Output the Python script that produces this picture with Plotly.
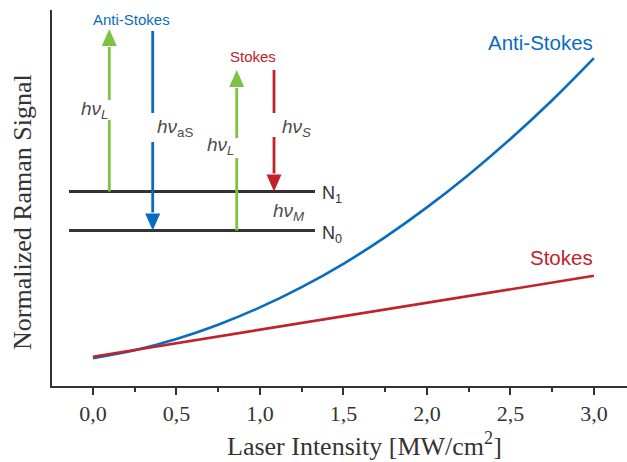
import plotly.graph_objects as go

# ---- data ----
intensity_as = [0.0, 0.25, 0.5, 0.75, 1.0, 1.25, 1.5, 1.75, 2.0, 2.25, 2.5, 2.75, 3.0]
anti_stokes = [0.074, 0.095, 0.125, 0.163, 0.209, 0.263, 0.325, 0.396, 0.475, 0.562, 0.657, 0.760, 0.872]
intensity_s = [0.0, 1.0, 2.0, 3.0]
stokes = [0.078, 0.150, 0.221, 0.293]
tick_vals = [0.0, 0.5, 1.0, 1.5, 2.0, 2.5, 3.0]
tick_text = ["0,0", "0,5", "1,0", "1,5", "2,0", "2,5", "3,0"]

BLUE = "#0a6cc0"
RED = "#c1222c"
GREEN = "#7dc242"
DARK = "#333333"
GRAY = "#4d4d4d"

W, H = 627, 462
ML, MR, MT, MB = 52, 0, 10, 76
XR = [-0.245, 3.198]
YR = [0.0, 1.0]


def px2x(px):
    return XR[0] + (px - ML) / (W - ML - MR) * (XR[1] - XR[0])


def px2y(py):
    return YR[0] + (H - MB - py) / (H - MT - MB) * (YR[1] - YR[0])


def px2paperx(px):
    return (px - ML) / (W - ML - MR)


def px2papery(py):
    return (H - MB - py) / (H - MT - MB)


fig = go.Figure()
fig.add_trace(go.Scatter(x=intensity_as, y=anti_stokes, mode="lines",
                         line=dict(color=BLUE, width=2.6, shape="spline"), showlegend=False))
fig.add_trace(go.Scatter(x=intensity_s, y=stokes, mode="lines",
                         line=dict(color=RED, width=2.6), showlegend=False))

shapes = []
annotations = []


def hline(x0, x1, y, color, w):
    shapes.append(dict(type="line", xref="x", yref="y", x0=px2x(x0), x1=px2x(x1),
                       y0=px2y(y), y1=px2y(y), line=dict(color=color, width=w)))


def vseg(x, y0, y1, color, w=2.8):
    shapes.append(dict(type="line", xref="x", yref="y", x0=px2x(x), x1=px2x(x),
                       y0=px2y(y0), y1=px2y(y1), line=dict(color=color, width=w)))


def head(x, tip, up, color, hw=7.5, hl=17):
    base = tip + hl if up else tip - hl
    path = "M {} {} L {} {} L {} {} Z".format(
        px2x(x), px2y(tip), px2x(x - hw), px2y(base), px2x(x + hw), px2y(base))
    shapes.append(dict(type="path", xref="x", yref="y", path=path,
                       fillcolor=color, line=dict(color=color, width=0)))


def arrow(x, start, tip, gap, color):
    up = tip < start
    hl = 17
    base = tip + hl if up else tip - hl
    g0, g1 = gap
    if up:
        vseg(x, start, g1, color)
        vseg(x, g0, base + 1, color)
    else:
        vseg(x, start, g0, color)
        vseg(x, g1, base - 1, color)
    head(x, tip, up, color, hl=hl)


def text(x, y, s, color, size, xanchor="center", yanchor="middle",
         family="Liberation Sans, Arial, sans-serif", angle=0):
    annotations.append(dict(x=px2paperx(x), y=px2papery(y), xref="paper", yref="paper",
                            text=s, showarrow=False, textangle=angle,
                            xanchor=xanchor, yanchor=yanchor,
                            font=dict(color=color, size=size, family=family)))


# energy levels
N1_Y, N0_Y = 191.5, 230.5
hline(69, 315, N1_Y, DARK, 2.8)
hline(69, 315, N0_Y, DARK, 2.8)

# arrows
arrow(109.3, N1_Y, 29, (100, 120), GREEN)
arrow(152.7, 31, N0_Y, (113, 142), BLUE)
arrow(236.7, N0_Y, 70, (138, 158), GREEN)
arrow(274, 70, N1_Y, (113, 137), RED)

# diagram labels
text(131.7, 20, "Anti-Stokes", BLUE, 15)
text(253, 56, "Stokes", RED, 15)
text(110, 110, "<i>hν</i><sub><i>L</i></sub>", GRAY, 19, xanchor="right")
text(155, 128, "<i>hν</i><sub>aS</sub>", GRAY, 19, xanchor="left")
text(236, 146, "<i>hν</i><sub><i>L</i></sub>", GRAY, 19, xanchor="right")
text(280, 128, "<i>hν</i><sub><i>S</i></sub>", GRAY, 19, xanchor="left")
text(271, 212, "<i>hν</i><sub><i>M</i></sub>", GRAY, 19, xanchor="left")
text(320, 194, "N<sub>1</sub>", DARK, 18, xanchor="left")
text(320, 234, "N<sub>0</sub>", DARK, 18, xanchor="left")

# curve labels
text(595, 43, "Anti-Stokes", BLUE, 20.5, xanchor="right")
text(595, 257, "Stokes", RED, 20.5, xanchor="right")

serif = "Liberation Serif, Times New Roman, serif"
# axis titles
text(364, 444, "Laser Intensity [MW/cm<sup>2</sup>]", DARK, 26, family=serif)
text(22, 212, "Normalized Raman Signal", DARK, 26, family=serif, angle=-90)

fig.update_layout(
    width=W, height=H, autosize=False,
    margin=dict(l=ML, r=MR, t=MT, b=MB, pad=0),
    plot_bgcolor="white", paper_bgcolor="white",
    shapes=shapes, annotations=annotations,
    xaxis=dict(range=XR, showgrid=False, zeroline=False, showline=True,
               linecolor=DARK, linewidth=2, ticks="outside", ticklen=7, tickwidth=1.5,
               tickcolor=DARK, tickvals=tick_vals, ticktext=tick_text,
               tickfont=dict(family=serif, size=22, color=DARK),
               minor=dict(ticks="outside", ticklen=4, tickwidth=1.5, tickcolor=DARK,
                          dtick=0.25, tick0=0, showgrid=False)),
    yaxis=dict(range=YR, showgrid=False, zeroline=False, showline=True,
               linecolor=DARK, linewidth=2, ticks="", showticklabels=False),
)

fig.write_html("out.html")
